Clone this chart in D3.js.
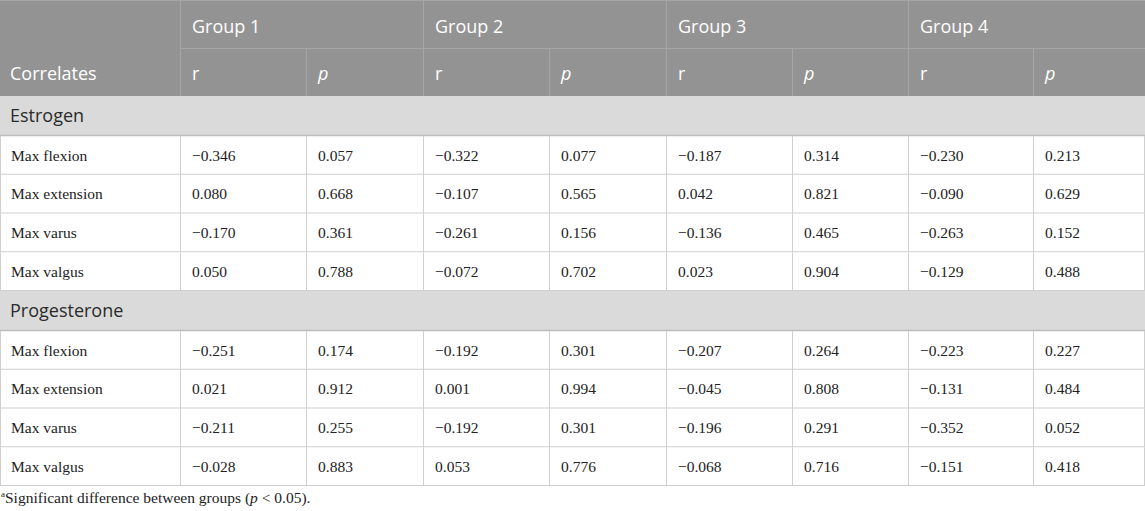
<!DOCTYPE html>
<html><head><meta charset="utf-8">
<script src="https://cdn.jsdelivr.net/npm/d3@7"></script>
<style>body{margin:0;background:#fff}svg{display:block}</style>
</head><body>
<script>
const groups = ["Group 1","Group 2","Group 3","Group 4"];
const subHeaders = ["r","p"];
const sections = ["Estrogen","Progesterone"];
const correlates = ["Max flexion","Max extension","Max varus","Max valgus"];
const estrogenValues = [
  ["−0.346","0.057","−0.322","0.077","−0.187","0.314","−0.230","0.213"],
  ["0.080","0.668","−0.107","0.565","0.042","0.821","−0.090","0.629"],
  ["−0.170","0.361","−0.261","0.156","−0.136","0.465","−0.263","0.152"],
  ["0.050","0.788","−0.072","0.702","0.023","0.904","−0.129","0.488"]
];
const progesteroneValues = [
  ["−0.251","0.174","−0.192","0.301","−0.207","0.264","−0.223","0.227"],
  ["0.021","0.912","0.001","0.994","−0.045","0.808","−0.131","0.484"],
  ["−0.211","0.255","−0.192","0.301","−0.196","0.291","−0.352","0.052"],
  ["−0.028","0.883","0.053","0.776","−0.068","0.716","−0.151","0.418"]
];
const footnote = "Significant difference between groups (";

const W = 1145, H = 511;
const colEdges = [0,180,306,423,549,666,792,908,1033,1145];
const hdrH = 48, secH = 40, rowH = 38.75;

const svg = d3.select("body").append("svg").attr("width",W).attr("height",H);
const x = i => colEdges[i];
const SANS = "'Open Sans', 'Noto Sans', sans-serif";
const SERIF = "'Liberation Serif', 'DejaVu Serif', serif";
const borderC = "#cfcfcf";

// Header
svg.append("rect").attr("x",0).attr("y",0).attr("width",W).attr("height",hdrH*2).attr("fill","#939393");
const hl = svg.append("g").attr("stroke","#a6a6a6").attr("stroke-width",1);
hl.append("line").attr("x1",180).attr("x2",W).attr("y1",hdrH+0.5).attr("y2",hdrH+0.5);
[1,3,5,7].forEach(i=>hl.append("line").attr("x1",x(i)+0.5).attr("x2",x(i)+0.5).attr("y1",0).attr("y2",hdrH*2));
[2,4,6,8].forEach(i=>hl.append("line").attr("x1",x(i)+0.5).attr("x2",x(i)+0.5).attr("y1",hdrH).attr("y2",hdrH*2));
hl.append("line").attr("x1",0).attr("x2",W).attr("y1",0.5).attr("y2",0.5);

svg.append("text").attr("x",10).attr("y",hdrH+32).attr("fill","#fff")
  .attr("font-family",SANS).attr("font-size",18).text("Correlates");
groups.forEach((g,gi)=>{
  svg.append("text").attr("x",x(1+gi*2)+12).attr("y",33).attr("fill","#fff")
    .attr("font-family",SANS).attr("font-size",18).text(g);
  subHeaders.forEach((s,si)=>{
    svg.append("text").attr("x",x(1+gi*2+si)+12).attr("y",hdrH+32).attr("fill","#fff")
      .attr("font-family",SANS).attr("font-size",18).attr("font-style",si===1?"italic":"normal").text(s);
  });
});

// Body
let y = hdrH*2;
const data = [estrogenValues, progesteroneValues];
sections.forEach((sec,si)=>{
  svg.append("rect").attr("x",0).attr("y",y).attr("width",W).attr("height",secH).attr("fill","#d9dad9");
  svg.append("line").attr("x1",0).attr("x2",W).attr("y1",y+secH-0.5).attr("y2",y+secH-0.5).attr("stroke","#bdbdbd").attr("stroke-width",1.5);
  svg.append("text").attr("x",10).attr("y",y+26).attr("fill","#2b2b2b")
    .attr("font-family",SANS).attr("font-size",18).text(sec);
  y += secH;
  correlates.forEach((c,ri)=>{
    const ry = y + ri*rowH;
    svg.append("line").attr("x1",0).attr("x2",W).attr("y1",ry+rowH-0.5).attr("y2",ry+rowH-0.5).attr("stroke",borderC);
    for(let k=1;k<colEdges.length;k++){
      const xx = k===colEdges.length-1 ? W-0.5 : x(k)+0.5;
      svg.append("line").attr("x1",xx).attr("x2",xx).attr("y1",ry).attr("y2",ry+rowH).attr("stroke",borderC);
    }
    svg.append("line").attr("x1",0.5).attr("x2",0.5).attr("y1",ry).attr("y2",ry+rowH).attr("stroke",borderC);
    svg.append("text").attr("x",11).attr("y",ry+24.5).attr("fill","#222")
      .attr("font-family",SERIF).attr("font-size",15.5).text(c);
    data[si][ri].forEach((v,vi)=>{
      svg.append("text").attr("x",x(vi+1)+12).attr("y",ry+24.5).attr("fill","#222")
        .attr("font-family",SERIF).attr("font-size",15.5).text(v);
    });
  });
  y += correlates.length*rowH;
});

// footnote
const ft = svg.append("text").attr("x",1).attr("y",y+17).attr("fill","#222")
  .attr("font-family",SERIF).attr("font-size",15.5);
ft.append("tspan").attr("font-size",9).attr("dy",-6).text("a");
ft.append("tspan").attr("dy",6).text(footnote);
ft.append("tspan").attr("font-style","italic").text("p");
ft.append("tspan").text(" < 0.05).");
</script>
</body></html>
